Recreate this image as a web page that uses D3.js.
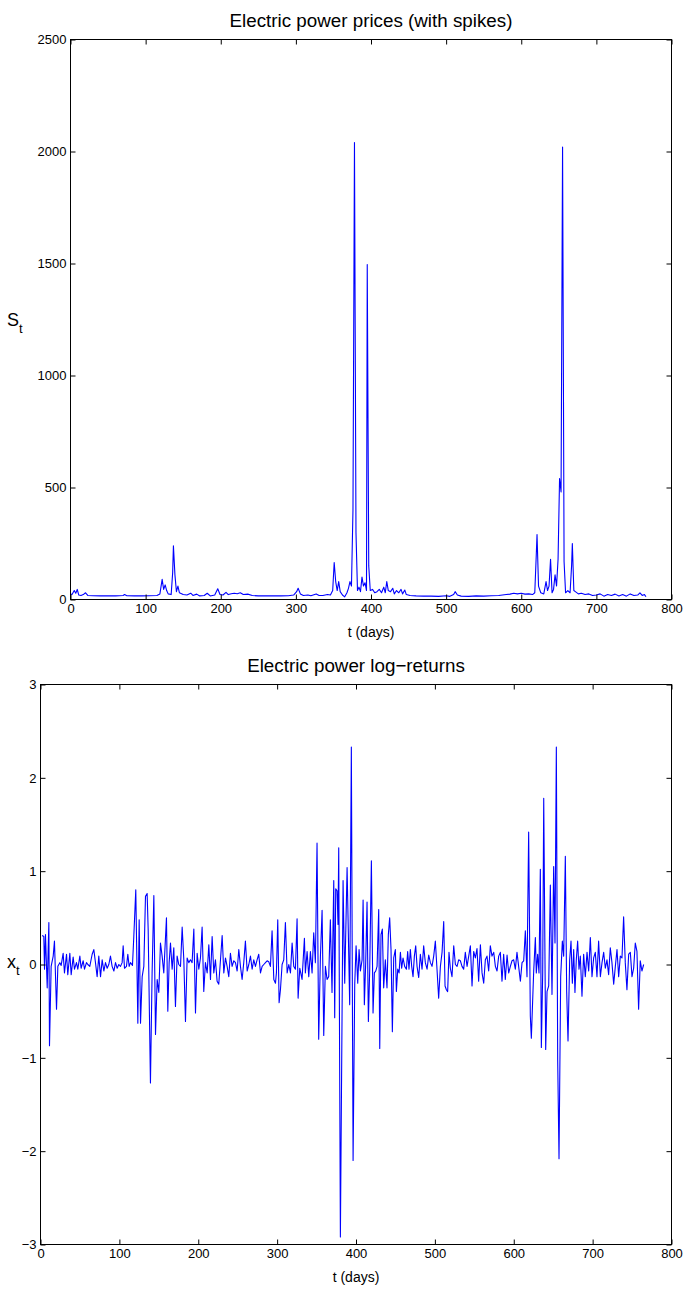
<!DOCTYPE html>
<html><head><meta charset="utf-8">
<script src="https://cdn.jsdelivr.net/npm/d3@7"></script>
<style>
body{margin:0;background:#fff}
svg{display:block}
text{font-family:"Liberation Sans",Arial,Helvetica,sans-serif;fill:#000}
</style>
</head><body>
<svg id="c" width="685" height="1289"></svg>
<script>
// ---- Data ----
const priceDays = [0,2,5,7,9,11,14,17,20,23,30,40,50,60,70,72,75,85,95,105,115,119,122,124,126,128,130,134,136,137,139,141,143,145,150,155,160,163,168,172,178,182,186,192,196,199,203,207,210,214,218,222,226,230,236,242,250,260,270,280,290,297,301,303,306,310,316,320,327,331,336,342,346,349,351,353,355,357,359,362,365,368,370,372,374,376,378,380,382,384,386,388,390,392,394,395,397,399,402,405,408,411,414,417,419,421,423,426,429,431,434,437,440,442,445,447,452,460,470,480,490,500,505,510,512,515,520,530,540,550,560,570,580,585,590,595,600,605,610,615,618,620,621,623,626,630,633,635,637,639,641,643,645,647,649,651,653,655,657,659,662,665,667,668,670,672,676,680,685,690,695,700,705,710,715,720,725,730,735,740,745,750,755,758,761,764,766];
const priceValues = [25,22,40,28,45,20,18,22,30,18,17,16,17,16,18,22,17,16,16,17,18,25,90,45,65,40,25,22,120,240,110,35,60,30,22,20,28,18,24,16,18,28,16,20,48,22,20,32,22,26,28,26,30,22,24,18,16,16,17,16,17,20,35,50,25,18,20,17,25,18,18,22,20,40,165,80,40,80,35,20,12,30,50,80,60,400,2040,300,40,55,35,100,60,75,40,1495,150,40,45,30,35,45,30,55,30,80,40,35,50,25,40,30,45,25,42,22,18,16,15,15,14,17,14,22,35,20,15,14,16,15,17,18,22,24,28,25,28,24,25,22,30,200,290,60,30,25,80,40,60,180,30,45,110,60,180,540,480,2020,170,30,40,30,150,250,40,35,25,28,22,25,18,20,25,15,22,18,24,16,22,15,25,18,20,30,18,22,12];

const returnDays = [2.1,4.2,5.1,6.3,8.5,10.6,11.4,13.5,16.1,17.7,20.3,22,24.5,26.2,28.7,30.4,33,34.6,37.2,38.9,41.4,43.1,45.6,47.3,49.9,51.5,54.1,55.8,58.3,60,62.5,65.5,67.6,69.7,71.8,73.9,76.1,78.2,80.3,82.4,84.5,86.6,88.7,90.8,93,95.1,97.2,99.3,101.4,103.5,104.8,106.5,109,110.7,112.4,114.1,116.6,118.3,120.8,123.4,125.1,126.8,128.9,131,133.1,135.2,136.5,139.4,141.5,143.7,145.8,147.9,150,152.1,154.2,156.3,159.7,161.4,163.1,164.8,166.9,169,171.1,173.2,175.3,177.5,179.6,181.7,183.8,185.9,188,190.1,192.2,194.4,196.5,198.6,200.7,202.8,204.9,207,209.1,211.3,213.4,215.5,217.6,219.7,221.8,223.9,226,228.2,230.3,232.4,234.5,236.6,238.7,240.8,242.9,245.1,247.2,249.3,251.4,253.5,255.6,257.7,259.8,262,264.1,266.2,268.3,270.4,272.5,274.6,276.7,278.9,281,283.1,285.2,287.3,289.4,291.5,293.6,295.8,297.9,299.1,300.8,302.5,304.2,306.3,308.4,310.5,312.7,314.8,316.9,319,321.1,323.2,325.3,326.6,328.7,331.6,334.6,335.8,338,340.1,342.2,344.3,346.4,348.5,350.6,352.7,354.9,357,359.1,361.2,363.3,365.4,367.5,369.6,371.8,373,374.3,376,377.2,378.1,380.2,383.6,385.7,388.7,392,394.1,396.3,398.4,400.1,402.2,403.9,405.6,407.7,409,410.6,412.3,414,415.7,417.4,419.5,421.6,423.3,425,426.7,428.8,430.1,431.7,433.4,435.1,437.2,439.3,441,442.7,444.4,446.1,447.8,449.9,451.2,452.9,454.6,456.3,457.9,459.6,461.7,463.9,465.5,467.2,468.9,470.6,472.3,474,475.7,477.4,479.5,481.6,483.7,485.8,487.9,490.1,492.2,494.3,496.4,498.5,500.6,502.7,504.8,507,509.1,511.2,512.9,514.6,516.2,517.9,519.6,521.7,523.9,526,528.1,530.2,532.3,534.4,536.5,538.6,540.8,542.9,545,547.1,549.2,551.3,553.4,555.5,557.7,559.8,561.9,564,566.1,568.2,570.3,572.4,574.6,576.7,578.8,580.9,583,585.1,587.2,589.3,591.5,593.6,595.7,597.8,599.9,602,604.1,606.2,608.4,610.5,612.6,614.7,616.8,618.9,621,622.3,624,625.3,627.4,628.6,630.3,632,633.7,635,636.7,638,640.5,642.2,644.3,646.4,648.5,650.6,652.3,654,655.7,657.4,659.5,661.6,663.3,665.4,667.1,668.8,670.9,672.6,674.3,676,677.6,679.3,681,682.7,684.4,686.5,688.6,690.7,692.9,695,697.1,699.2,701.3,703.4,705.5,707.6,709.8,711.9,714,716.1,718.2,720.3,722.4,724.5,726.7,728.8,730.9,733,735.1,737.2,739.3,741.4,743.5,745.7,747.8,749.9,752,754.1,756.2,758.3,760.4,762.5,764.7];
const returnValues = [0.31,0.30,-0.05,0.32,-0.25,0.45,-0.87,-0.02,0.09,0.25,-0.48,-0.02,0.02,-0.01,0.12,-0.09,0.11,-0.11,0.12,-0.11,0.08,-0.05,0.02,-0.05,0.09,-0.04,0.04,-0.05,0.02,0,-0.02,0.11,0.16,0.02,-0.13,0.09,-0.13,0.05,-0.07,0.02,-0.04,0,0.09,-0.02,-0.07,0.02,-0.04,0,-0.02,0.02,0.2,-0.04,-0.02,0.11,-0.02,0.02,-0.01,0.30,0.80,-0.63,0.48,-0.63,-0.13,-0.02,0.73,0.76,0.38,-1.27,-0.09,0.74,-0.75,-0.16,-0.30,0.23,0.09,-0.09,0.50,-0.50,0.02,0.23,-0.05,0.18,-0.45,0.09,0,-0.02,0.40,0.05,-0.61,0.07,0.02,0.05,0.02,0.38,-0.52,0.12,-0.05,0.07,0.40,-0.29,0.02,-0.09,0.21,-0.16,0.30,-0.09,0.05,-0.18,-0.21,0.05,0.31,-0.09,0.07,-0.02,-0.13,0.12,-0.02,0.04,0.02,-0.07,0.16,-0.02,-0.16,0.02,0.25,-0.07,0,0.09,-0.05,0.05,-0.02,0.05,0.11,-0.09,-0.02,0,0.02,0.04,0.03,-0.02,0.36,-0.16,-0.20,-0.09,0.48,-0.41,-0.27,0,0.05,0.45,-0.09,0,-0.09,0.23,-0.02,-0.05,0.49,-0.36,-0.04,-0.16,0.28,-0.09,0.14,-0.13,0.14,-0.09,0.34,0.02,1.30,-0.80,0.09,0.58,-0.76,-0.02,-0.16,-0.13,0.48,-0.30,0.90,-0.57,0.81,0.79,0.43,1.25,-2.92,0.90,-0.20,1.04,-0.43,2.33,-2.10,-0.21,0.20,-0.20,0.16,-0.07,0.05,0.69,-0.43,0.02,0.67,-0.61,-0.05,1.11,-0.52,-0.09,-0.07,-0.02,0.59,-0.90,0.32,0.38,-0.25,0.05,-0.25,0.32,0.50,0.16,-0.72,0.07,0.16,-0.29,-0.05,-0.09,0.13,-0.04,0.07,-0.02,-0.05,0.14,-0.05,0.16,-0.02,-0.13,0.09,0.20,-0.02,-0.14,0.11,-0.05,0.20,0.02,-0.05,0.10,0.02,-0.02,0.09,0.25,-0.05,-0.36,-0.02,0.13,0.46,-0.23,-0.27,-0.29,0.13,-0.04,-0.13,0.20,0,-0.02,0.05,0.04,-0.02,-0.05,0.13,-0.02,0.09,0.20,-0.23,0.14,0.07,0.17,-0.18,0.21,-0.09,-0.20,0.05,0.09,-0.07,0.20,0.09,0.13,-0.02,-0.07,0.09,0.13,-0.18,0.11,-0.16,0.10,-0.09,-0.02,0.04,0.05,-0.05,0.13,-0.02,-0.18,0.02,0.04,0.36,-0.13,1.42,-0.55,-0.79,-0.38,-0.07,0.29,-0.09,0.11,-0.09,1.02,-0.89,-0.09,1.78,-0.91,-0.29,-0.23,0.85,-0.32,1.05,0.23,2.33,-1.02,-2.08,-0.13,0.25,0.09,1.16,-0.29,-0.82,0.05,0.25,-0.20,0.16,-0.30,0.05,0.25,-0.05,0.09,-0.34,0.11,-0.13,0.13,-0.07,0.29,-0.13,0.07,0.13,-0.13,0.25,-0.13,0.02,0.13,-0.04,0.05,-0.11,0.18,0.02,-0.21,-0.02,0.16,-0.13,0.09,0.07,0.51,0.02,-0.27,0.11,0.13,-0.13,-0.04,0.23,0.14,-0.48,0.04,-0.07,0];

const xTickValues = [0,100,200,300,400,500,600,700,800];
const priceTickValues = [0,500,1000,1500,2000,2500];
const returnTickValues = [-3,-2,-1,0,1,2,3];

const svg = d3.select("#c");
const fmt = d3.format("d");

function panel(o){
  const x = d3.scaleLinear().domain([0,800]).range([o.left,o.right]);
  const y = d3.scaleLinear().domain(o.yDomain).range([o.bottom,o.top]);
  const g = svg.append("g");
  const T = 5;
  const line = d3.line().x(d=>x(d[0])).y(d=>y(d[1]));
  g.append("path").datum(o.days.map((d,i)=>[d,o.values[i]]))
    .attr("d",line).attr("fill","none").attr("stroke","#0000ff").attr("stroke-width",1.1)
    .attr("stroke-linejoin","round");
  const ax = (sel)=>{sel.select(".domain").remove(); sel.selectAll("line").attr("stroke","#000");};
  const lbl = (sel)=>sel.selectAll("text").attr("font-size",13).attr("font-family",'"Liberation Sans",Arial,sans-serif');
  g.append("g").attr("transform",`translate(0,${o.bottom})`)
    .call(d3.axisBottom(x).tickValues(xTickValues).tickFormat(fmt).tickSizeInner(-T).tickSizeOuter(0).tickPadding(4))
    .call(ax).call(lbl);
  g.append("g").attr("transform",`translate(0,${o.top})`)
    .call(d3.axisTop(x).tickValues(xTickValues).tickSizeInner(-T).tickSizeOuter(0).tickFormat(""))
    .call(ax);
  g.append("g").attr("transform",`translate(${o.left},0)`)
    .call(d3.axisLeft(y).tickValues(o.yTicks).tickFormat(fmt).tickSizeInner(-T).tickSizeOuter(0).tickPadding(4))
    .call(ax).call(lbl);
  g.append("g").attr("transform",`translate(${o.right},0)`)
    .call(d3.axisRight(y).tickValues(o.yTicks).tickSizeInner(-T).tickSizeOuter(0).tickFormat(""))
    .call(ax);
  g.append("rect").attr("x",o.left).attr("y",o.top).attr("width",o.right-o.left).attr("height",o.bottom-o.top)
    .attr("fill","none").attr("stroke","#000").attr("stroke-width",1);
  g.append("text").attr("x",(o.left+o.right)/2).attr("y",o.top-13).attr("text-anchor","middle")
    .attr("font-size",18.8).text(o.title);
  g.append("text").attr("x",(o.left+o.right)/2).attr("y",o.bottom+37).attr("text-anchor","middle")
    .attr("font-size",14).text("t (days)");
  const yl = g.append("text").attr("x",o.ylx).attr("y",o.yly).attr("font-size",18);
  yl.append("tspan").text(o.ylab);
  yl.append("tspan").attr("font-size",13).attr("dy",7).text("t");
}

panel({left:70.5,right:671.5,top:39.5,bottom:599.5,yDomain:[0,2500],yTicks:priceTickValues,
  days:priceDays,values:priceValues,title:"Electric power prices (with spikes)",ylab:"S",ylx:7,yly:326});
panel({left:40.5,right:671.5,top:684.5,bottom:1244.5,yDomain:[-3,3],yTicks:returnTickValues,
  days:returnDays,values:returnValues,title:"Electric power log\u2212returns",ylab:"x",ylx:7,yly:968});
</script>
</body></html>
